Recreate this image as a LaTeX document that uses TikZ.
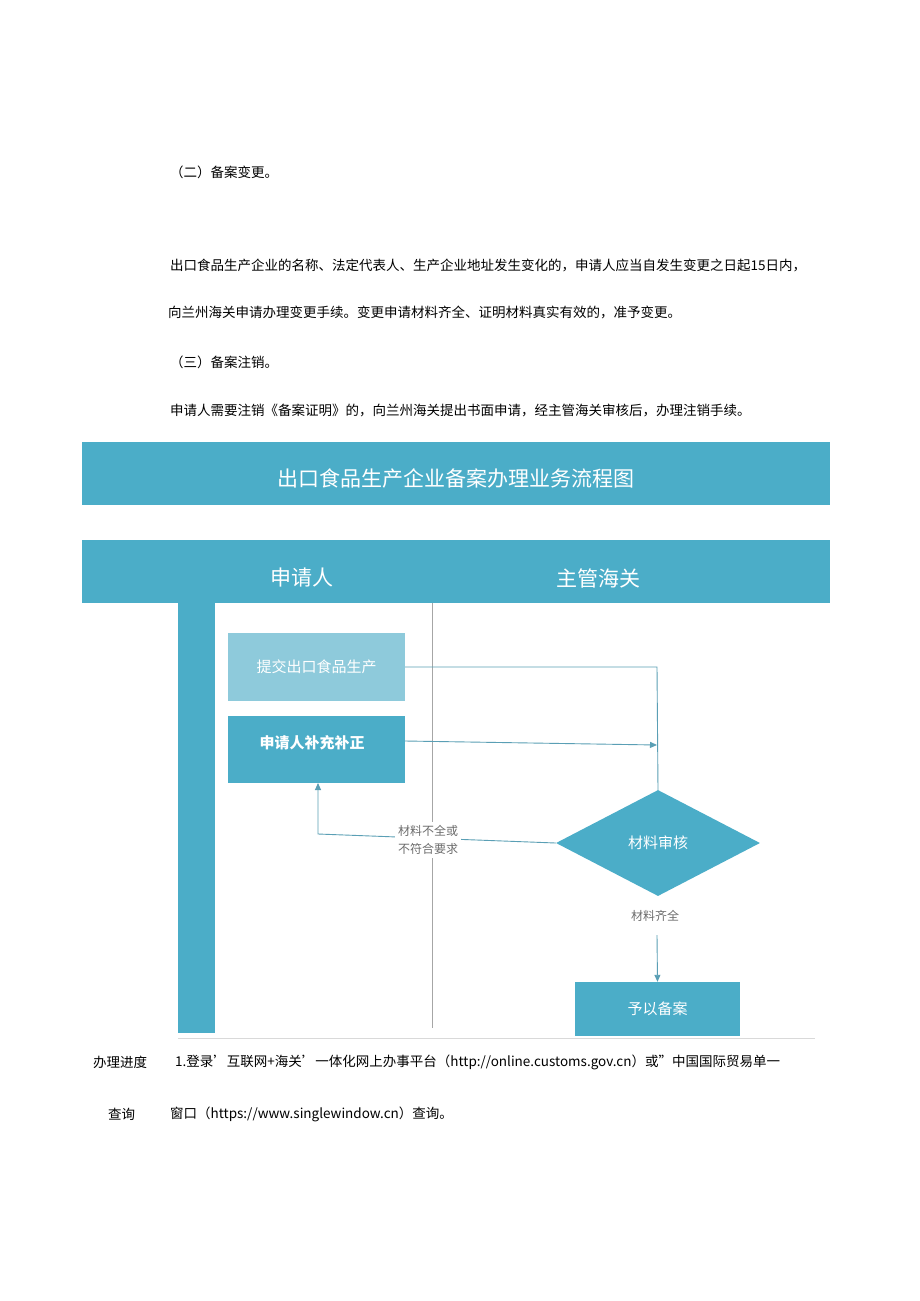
\documentclass[tikz,border=0pt]{standalone}
\usepackage{fontspec}
\setmainfont{Noto Sans CJK SC}
\usetikzlibrary{shapes.geometric,arrows.meta}
\definecolor{tb}{HTML}{4BADC8}
\definecolor{lb}{HTML}{8ECADB}
\definecolor{ln}{HTML}{5A9FB5}
\tikzset{
 body/.style={anchor=west,inner sep=0pt,font=\fontsize{13.5}{14}\selectfont},
 boxa/.style={fill=#1,text=white,inner sep=0pt,font=\fontsize{15}{16}\selectfont},
 conn/.style={draw=ln,line width=0.9pt},
 arr/.style={conn,-{Triangle[length=7pt,width=6pt]}},
 lab/.style={text=gray!85!black,font=\fontsize{12}{18}\selectfont,align=center,fill=white},
}
\begin{document}
\begin{tikzpicture}[x=1pt,y=-1pt]
\useasboundingbox[fill=white] (0,0) rectangle (920,1301);
\node[body] (t2) at (170,172) {（二）备案变更。};
\node[body] (p1) at (170,265) {出口食品生产企业的名称、法定代表人、生产企业地址发生变化的，申请人应当自发生变更之日起15日内，};
\node[body] (p2) at (168,312) {向兰州海关申请办理变更手续。变更申请材料齐全、证明材料真实有效的，准予变更。};
\node[body] (t3) at (170,362) {（三）备案注销。};
\node[body] (p3) at (170,410) {申请人需要注销《备案证明》的，向兰州海关提出书面申请，经主管海关审核后，办理注销手续。};
% banner
\fill[tb] (82,442) rectangle (830,505);
\node[text=white,font=\fontsize{21}{22}\selectfont] (title) at (456,478) {出口食品生产企业备案办理业务流程图};
\fill[tb] (82,540) rectangle (830,603);
\node[text=white,font=\fontsize{21}{22}\selectfont] (h1) at (302,578) {申请人};
\node[text=white,font=\fontsize{21}{22}\selectfont] (h2) at (598,578) {主管海关};
\fill[tb] (178,603) rectangle (215,1033);
\draw[gray!70,line width=0.8pt] (432,603) -- (432,1028);
\draw[gray!30,line width=0.6pt] (178,1038) -- (815,1038);
% boxes
\node[boxa=lb,minimum width=177pt,minimum height=68pt] (b1) at (316.5,667) {提交出口食品生产};
\node[boxa=tb,minimum width=177pt,minimum height=67pt,font=\bfseries\fontsize{15}{16}\selectfont] (b2) at (316.5,749.5) {};
\node[text=white,font=\bfseries\fontsize{15}{16}\selectfont] (b2t) at (312,743) {申请人补充补正};
\node[diamond,fill=tb,text=white,minimum width=204pt,minimum height=106pt,inner sep=0pt,aspect=1.9,font=\fontsize{15}{16}\selectfont] (d) at (658,843) {材料审核};
\node[boxa=tb,minimum width=165pt,minimum height=54pt,font=\fontsize{15}{16}\selectfont] (b3) at (657.5,1009) {予以备案};
% connectors
\draw[conn] (b1.east) -- (657,667) -- (d.north);
\draw[arr] (b2.east |- 0,741) -- (657,745);
\draw[arr] (d.west) -- (318,834) -- (318,783);
\node[lab] (l1) at (428,840) {材料不全或\\不符合要求};
\node[lab] (l2) at (655,916) {材料齐全};
\coordinate (a3) at (657,935);
\draw[arr] (a3) -- (b3.north);
% bottom text
\node[body] (q1) at (93,1062) {办理进度};
\node[body] (q2) at (108,1114) {查询};
\node[body] (r1) at (175,1062) {1.登录'互联网+海关'一体化网上办事平台（http://online.customs.gov.cn）或"中国国际贸易单一};
\node[body] (r2) at (170,1114) {窗口（https://www.singlewindow.cn）查询。};
\end{tikzpicture}
\end{document}
